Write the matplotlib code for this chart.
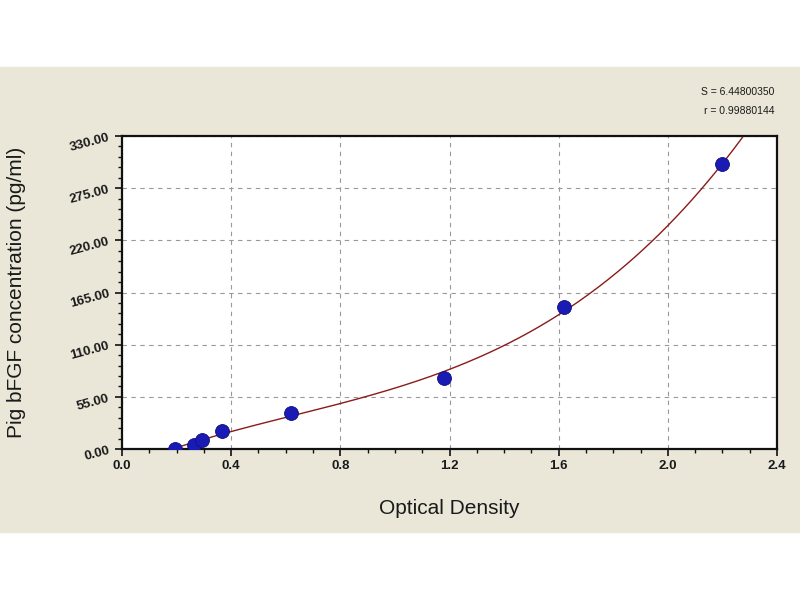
import numpy as np
import matplotlib
matplotlib.use("Agg")
import matplotlib.pyplot as plt
from matplotlib.patches import Rectangle
from matplotlib.ticker import MultipleLocator

plt.rcParams['font.family'] = ['Liberation Sans', 'DejaVu Sans']

# standard curve points
od = [0.194, 0.264, 0.293, 0.366, 0.619, 1.18, 1.62, 2.20]
conc = [0.0, 4.5, 9.5, 19.0, 38.0, 75.0, 150.0, 300.0]
fit_s = "S = 6.44800350"
fit_r = "r = 0.99880144"
y_ticks = [0, 55, 110, 165, 220, 275, 330]
x_ticks = [0.0, 0.4, 0.8, 1.2, 1.6, 2.0, 2.4]

fig = plt.figure(figsize=(8, 6), dpi=100)
fig.patches.append(Rectangle((0, 1 - 532 / 600), 1, (532 - 67) / 600,
                             transform=fig.transFigure, color='#eae7d8', zorder=-10))

ax = fig.add_axes([122 / 800, 1 - 449 / 600, (777 - 122) / 800, (449 - 136) / 600])
ax.set_facecolor('white')

# cubic fit through the points, like the curve-fit software does
coef = np.polyfit(od, conc, 3)
xs = np.linspace(0.0, 2.4, 400)
ys = np.polyval(coef, xs)
keep = (ys >= 0) & (ys <= 330) & (xs > 0.1)
ax.plot(xs[keep], ys[keep], color='#8b1a1a', lw=1.0, zorder=3)
ax.scatter(od, conc, s=100, color='#1a1ab4', edgecolor='#10107a', lw=0.6, zorder=4)

ax.set_xlim(0, 2.4)
ax.set_ylim(0, 330)
ax.set_xticks(x_ticks)
ax.set_yticks(y_ticks)
ax.xaxis.set_minor_locator(MultipleLocator(0.1))
ax.yaxis.set_minor_locator(MultipleLocator(11))
ax.set_xticklabels([f"{v:.1f}" for v in x_ticks], fontsize=9.5, fontweight='bold')
ax.set_yticklabels([f"{v:.2f}" for v in y_ticks], fontsize=9.5, fontweight='bold', rotation=15)
ax.tick_params(which='major', direction='out', length=5, width=1.2, colors='#111111', pad=3)
ax.tick_params(which='minor', direction='out', length=3, width=1.0, colors='#111111')
for lab in ax.get_xticklabels() + ax.get_yticklabels():
    lab.set_color('#1a1a1a')
for sp in ax.spines.values():
    sp.set_linewidth(1.6)
    sp.set_color('#111111')
ax.grid(True, which='major', color='#999999', ls=(0, (4, 4)), lw=0.8)

ax.set_xlabel("Optical Density", fontsize=15, color='#1a1a1a')
ax.set_ylabel("Pig bFGF concentration (pg/ml)", fontsize=15, color='#1a1a1a')
ax.xaxis.set_label_coords(0.5, -0.16)
ax.yaxis.set_label_coords(-0.147, 0.5)

fig.text(774 / 800, 1 - 92 / 600, fit_s, ha='right', va='center', fontsize=7.5, color='#1a1a1a')
fig.text(774 / 800, 1 - 111 / 600, fit_r, ha='right', va='center', fontsize=7.5, color='#1a1a1a')

fig.savefig("out.png", dpi=100)
